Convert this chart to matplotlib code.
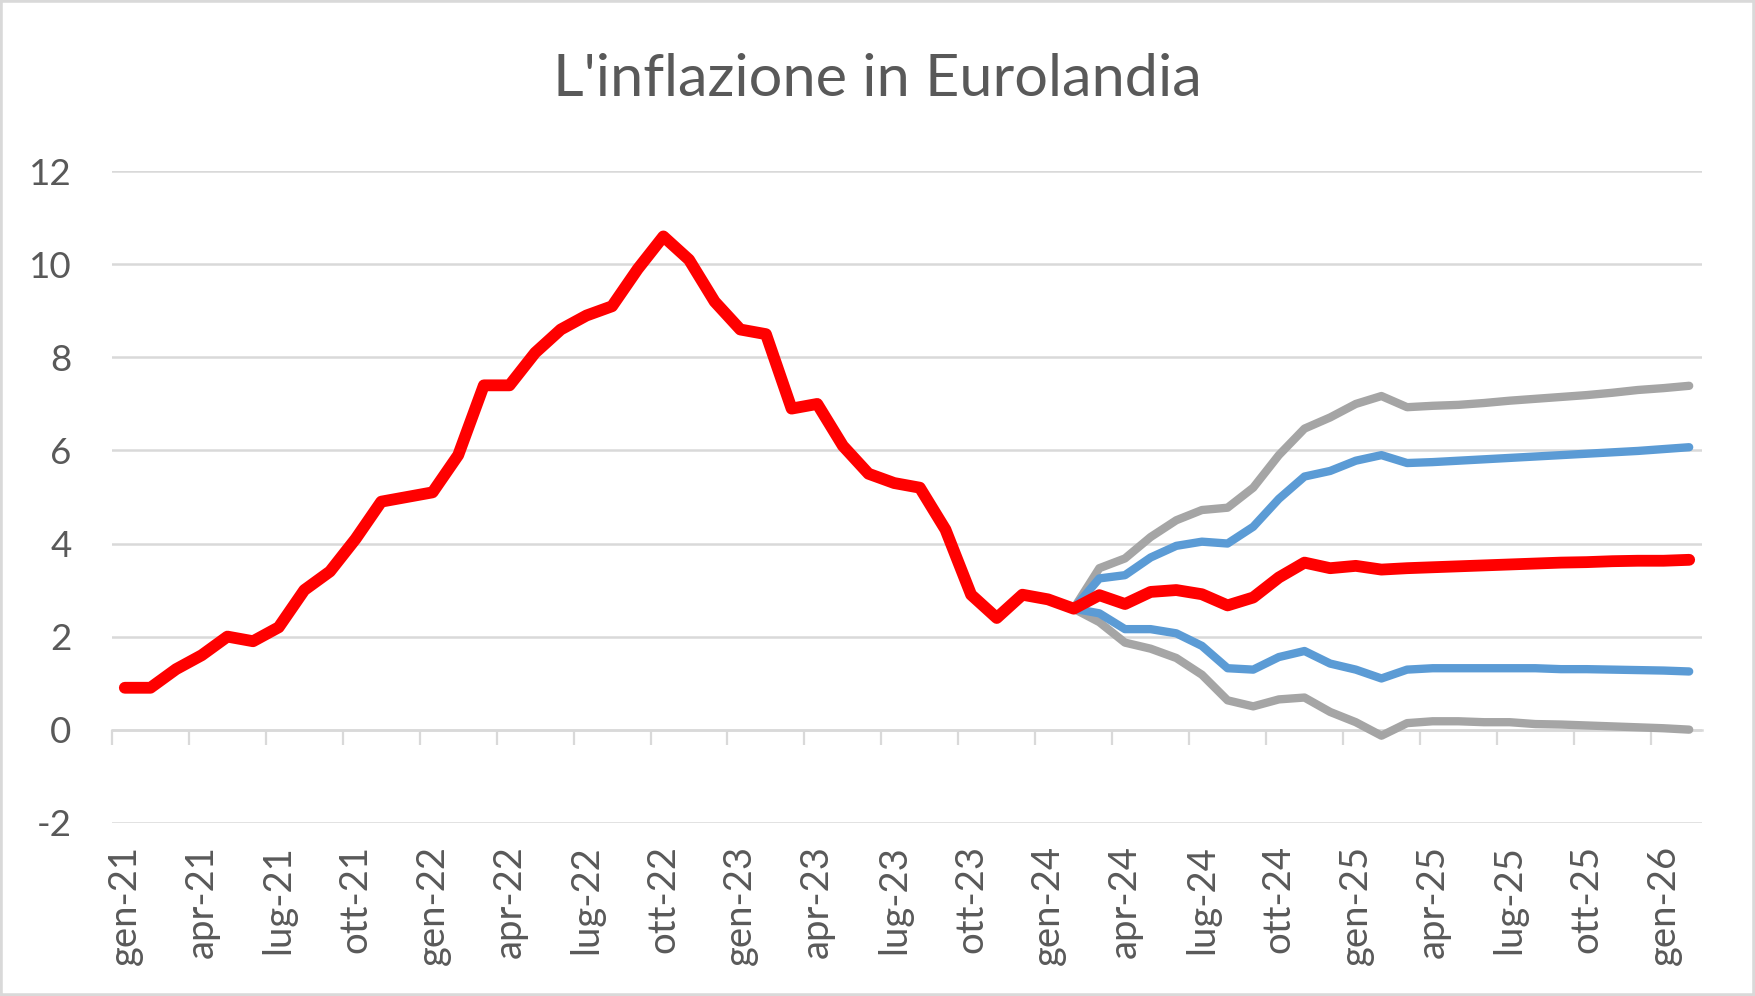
import matplotlib
matplotlib.use("Agg")
import matplotlib.pyplot as plt
import numpy as np
from matplotlib.patches import Rectangle

# ---- data ----
month_names = ["gen", "feb", "mar", "apr", "mag", "giu", "lug", "ago", "set", "ott", "nov", "dic"]
months = [f"{month_names[m]}-{y:02d}" for y in range(21, 27) for m in range(12)][:62]

actual = [0.9, 0.9, 1.3, 1.6, 2.0, 1.9, 2.2, 3.0, 3.4, 4.1, 4.9, 5.0,
          5.1, 5.9, 7.4, 7.4, 8.1, 8.6, 8.9, 9.1, 9.9, 10.6, 10.1, 9.2,
          8.6, 8.5, 6.9, 7.0, 6.1, 5.5, 5.3, 5.2, 4.3, 2.9, 2.4, 2.9,
          2.8, 2.6, 2.89, 2.70, 2.96, 3.0, 2.91, 2.67, 2.84, 3.27, 3.59, 3.47,
          3.52, 3.44, 3.47, 3.49, 3.51, 3.53, 3.55, 3.57, 3.59, 3.60, 3.62, 3.63,
          3.63, 3.65]

fc_start = 37  # feb-24
upper_gray = [2.6, 3.47, 3.68, 4.14, 4.5, 4.72, 4.77, 5.2, 5.9, 6.47, 6.71, 7.0,
              7.17, 6.93, 6.96, 6.98, 7.02, 7.07, 7.11, 7.15, 7.19, 7.24, 7.30, 7.34, 7.39]
upper_blue = [2.6, 3.25, 3.32, 3.7, 3.95, 4.04, 4.0, 4.36, 4.96, 5.44, 5.56, 5.78,
              5.9, 5.73, 5.75, 5.78, 5.81, 5.84, 5.87, 5.9, 5.93, 5.96, 5.99, 6.03, 6.07]
lower_blue = [2.6, 2.5, 2.16, 2.16, 2.07, 1.8, 1.32, 1.29, 1.56, 1.69, 1.42, 1.29,
              1.1, 1.29, 1.32, 1.32, 1.32, 1.32, 1.32, 1.30, 1.30, 1.29, 1.28, 1.27, 1.25]
lower_gray = [2.6, 2.31, 1.87, 1.74, 1.54, 1.18, 0.63, 0.5, 0.65, 0.69, 0.38, 0.16,
              -0.13, 0.14, 0.18, 0.18, 0.16, 0.16, 0.12, 0.11, 0.09, 0.07, 0.05, 0.03, 0.0]

yticks = [-2, 0, 2, 4, 6, 8, 10, 12]

# ---- style ----
TXT = "#595959"
GRID = "#D9D9D9"
RED = "#FF0000"
BLUE = "#5B9BD5"
GRAY = "#A5A5A5"
plt.rcParams['font.family'] = ['Lato', 'DejaVu Sans']

fig = plt.figure(figsize=(17.55, 9.96), dpi=100)
ax = fig.add_axes([112 / 1755, 1 - 822.7 / 996, (1702 - 112) / 1755, (822.7 - 171.3) / 996])

x = np.arange(len(months))
xf = np.arange(fc_start, fc_start + len(upper_gray))

kw = dict(solid_joinstyle="round", solid_capstyle="round", zorder=3)
ax.plot(xf, upper_gray, color=GRAY, lw=6, **kw)
ax.plot(xf, lower_gray, color=GRAY, lw=6, **kw)
ax.plot(xf, upper_blue, color=BLUE, lw=6, **kw)
ax.plot(xf, lower_blue, color=BLUE, lw=6, **kw)
ax.plot(x, actual, color=RED, lw=8.5, solid_joinstyle="round", solid_capstyle="round", zorder=4)

ax.set_xlim(-0.5, len(months) - 0.5)
ax.set_ylim(-2, 12)

# gridlines
ax.set_yticks(yticks)
ax.set_yticklabels([str(v) for v in yticks])
ax.yaxis.grid(True, color=GRID, lw=1.8)
ax.set_axisbelow(True)
ax.tick_params(axis="y", length=0, pad=29, labelsize=26.5, labelcolor=TXT)

for s in ["top", "right", "left"]:
    ax.spines[s].set_visible(False)

# category axis line at y=0 with tick marks between categories
ax.spines["bottom"].set_position(("data", 0))
ax.spines["bottom"].set_color(GRID)
ax.spines["bottom"].set_linewidth(1.8)
ax.set_xticks([])
ax.set_xticks(np.arange(0, len(months) - 1, 3) - 0.5, minor=True)
ax.tick_params(axis="x", which="minor", length=11, width=1.6, color=GRID, direction="out")

# tick labels at bottom
sec = ax.secondary_xaxis(0.0)
label_pos = np.arange(0, len(months), 3)
sec.set_xticks(label_pos)
sec.set_xticklabels([months[i] for i in label_pos], rotation=90)
sec.tick_params(length=0, pad=16, labelsize=27.5, labelcolor=TXT)
sec.spines["bottom"].set_visible(False)

fig.text(0.5, 1 - 79 / 996, "L'inflazione in Eurolandia", ha="center", va="center",
         fontsize=42.8, color=TXT)

fig.patches.append(Rectangle((0, 0), 1, 1, transform=fig.transFigure, fill=False,
                             edgecolor=GRID, lw=4))

fig.savefig("out.png", dpi=100)
